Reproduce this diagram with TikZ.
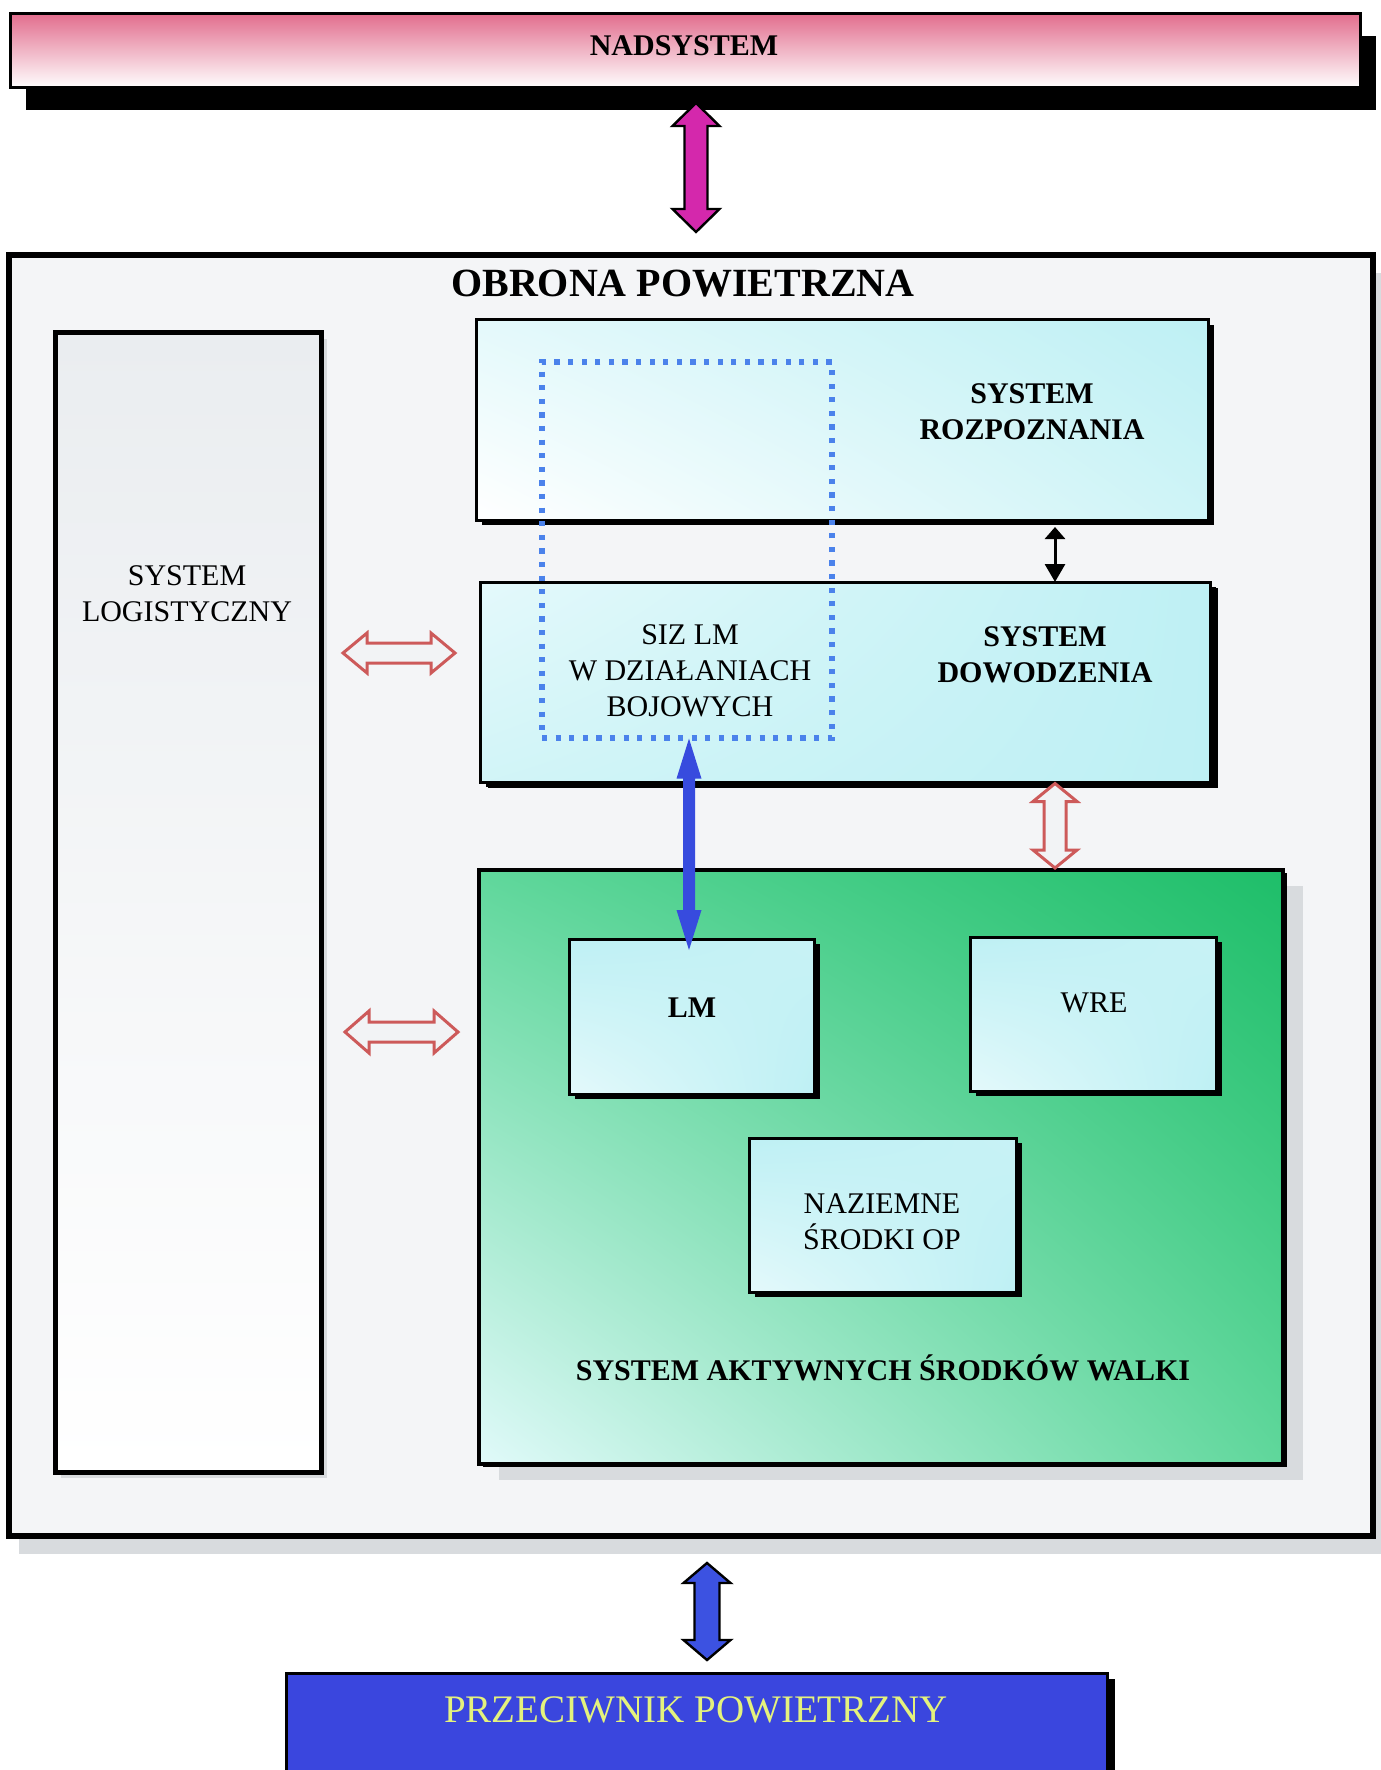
\documentclass[tikz,border=0pt]{standalone}
\usepackage{fontspec}
\setmainfont{Liberation Serif}
\usetikzlibrary{calc,arrows.meta,shadows,shadings}
\definecolor{pinkbar}{RGB}{226,110,142}
\definecolor{bgbox}{RGB}{244,245,247}
\definecolor{halo}{RGB}{216,219,222}
\definecolor{logitop}{RGB}{234,237,240}
\definecolor{cyanbox}{RGB}{190,240,244}
\definecolor{cyanlight}{RGB}{228,249,251}
\definecolor{greendark}{RGB}{30,190,105}
\definecolor{greenmid}{RGB}{95,215,155}
\definecolor{greenlight}{RGB}{225,250,250}
\definecolor{magentaarr}{RGB}{212,40,172}
\definecolor{bluearr}{RGB}{60,82,225}
\definecolor{bluelm}{RGB}{55,75,222}
\definecolor{dotblue}{RGB}{75,130,235}
\definecolor{redarr}{RGB}{205,90,90}
\definecolor{hollow}{RGB}{242,243,245}
\definecolor{enemy}{RGB}{58,70,222}
\definecolor{enemytext}{RGB}{228,242,125}
% vertical double block arrow: style, from (top), to (bottom), half shaft, half head, head length
\newcommand\vblock[6][]{%
  \draw[#1] let \p1=(#2), \p2=(#3) in
    (\x1,\y1) -- (\x1+#5,\y1-#6) -- (\x1+#4,\y1-#6) -- (\x1+#4,\y2+#6) -- (\x1+#5,\y2+#6)
    -- (\x1,\y2) -- (\x1-#5,\y2+#6) -- (\x1-#4,\y2+#6) -- (\x1-#4,\y1-#6) -- (\x1-#5,\y1-#6) -- cycle;}
% horizontal double block arrow: style, from (left), to (right), half shaft, half head, head length
\newcommand\hblock[6][]{%
  \draw[#1] let \p1=(#2), \p2=(#3) in
    (\x1,\y1) -- (\x1+#6,\y1+#5) -- (\x1+#6,\y1+#4) -- (\x2-#6,\y1+#4) -- (\x2-#6,\y1+#5)
    -- (\x2,\y1) -- (\x2-#6,\y1-#5) -- (\x2-#6,\y1-#4) -- (\x1+#6,\y1-#4) -- (\x1+#6,\y1-#5) -- cycle;}
\begin{document}
\begin{tikzpicture}[x=0.5pt,y=-0.5pt,
  lbl/.style={font=\fontsize{15}{18}\selectfont, align=center, inner sep=0pt},
  lblb/.style={lbl, font=\fontsize{15}{18}\selectfont\bfseries},
  cbox/.style={draw, line width=1.5pt, inner sep=0pt,
    drop shadow={shadow xshift=3pt, shadow yshift=-2.5pt, fill=black, opacity=1}},
  cyanfill/.style={upper left=cyanbox, upper right=cyanbox!85, lower left=cyanlight, lower right=cyanbox},
  magarrow/.style={draw=black, line width=1.2pt, fill=magentaarr, line join=miter},
  bluearrow/.style={draw=black, line width=1.2pt, fill=bluearr, line join=miter},
  lmarrow/.style={fill=bluelm, draw=none},
  hollowarrow/.style={draw=redarr, line width=1.5pt, fill=hollow, line join=miter},
]
\useasboundingbox (0,0) rectangle (1380,1770);
\fill[white] (0,0) rectangle (1380,1770);

% NADSYSTEM bar
\node[draw, line width=1.5pt, shade, top color=pinkbar, middle color=pinkbar!45, bottom color=white,
  minimum width=675pt, minimum height=37pt, inner sep=0pt,
  drop shadow={shadow xshift=8pt, shadow yshift=-11pt, fill=black, opacity=1}] (nad) at (685,51) {};

% OBRONA POWIETRZNA frame
\node[draw, line width=3pt, fill=bgbox, minimum width=682pt, minimum height=640.5pt, inner sep=0pt,
  drop shadow={shadow xshift=5pt, shadow yshift=-9pt, fill=halo, opacity=1}] (obrona) at (691,895.5) {};

% SYSTEM LOGISTYCZNY
\node[draw, line width=2.5pt, shade, top color=logitop, bottom color=white,
  minimum width=133pt, minimum height=569.5pt, inner sep=0pt,
  drop shadow={shadow xshift=3pt, shadow yshift=-3pt, fill=halo, opacity=1}] (logi) at (188,902.5) {};

% SYSTEM ROZPOZNANIA
\node[cbox, upper left=cyanlight, upper right=cyanbox, lower left=white, lower right=cyanbox!75,
  minimum width=366pt, minimum height=100pt] (rozp) at (842,420) {};

% SYSTEM DOWODZENIA
\node[cbox, upper left=cyanlight, upper right=cyanbox, lower left=cyanbox!70, lower right=cyanbox,
  minimum width=365pt, minimum height=100pt,
  drop shadow={shadow xshift=4pt, shadow yshift=-3pt, fill=black, opacity=1}] (dow) at (845,682) {};

% SYSTEM AKTYWNYCH SRODKOW WALKI
\node[draw, line width=2pt, inner sep=0pt,
  upper left=greenmid, upper right=greendark, lower left=greenlight, lower right=greenmid,
  minimum width=402pt, minimum height=297pt,
  drop shadow={shadow xshift=10pt, shadow yshift=-8pt, fill=halo, opacity=1},
  drop shadow={shadow xshift=2pt, shadow yshift=-1.5pt, fill=black, opacity=1}] (green) at (881,1167) {};

\node[cbox, cyanfill, minimum width=122.5pt, minimum height=77.5pt] (lm) at (691.5,1016.5) {};
\node[cbox, cyanfill, minimum width=123pt, minimum height=77pt] (wre) at (1093,1014) {};
\node[cbox, cyanfill, minimum width=133.5pt, minimum height=77pt] (naz) at (882.5,1215) {};

% dotted SIZ LM frame
\node[draw=dotblue, line width=2.6pt, dash pattern=on 2.6pt off 4.2pt,
  minimum width=145pt, minimum height=188pt, inner sep=0pt] (siz) at (687,550) {};

% PRZECIWNIK POWIETRZNY
\node[draw, line width=1.5pt, fill=enemy, minimum width=410.5pt, minimum height=58.5pt, inner sep=0pt,
  drop shadow={shadow xshift=4pt, shadow yshift=-3pt, fill=black, opacity=1}] (prz) at (696.5,1731.5) {};

% labels
\node[lblb] (nadL) at (684,46) {NADSYSTEM};
\node[font=\fontsize{20}{24}\selectfont\bfseries, inner sep=0pt] (obrL) at (683,284) {OBRONA POWIETRZNA};
\node[lbl] (logiL) at (187,594) {SYSTEM\\LOGISTYCZNY};
\node[lblb] (rozpL) at (1032,412) {SYSTEM\\ROZPOZNANIA};
\node[lblb] (dowL) at (1045,655) {SYSTEM\\DOWODZENIA};
\node[lbl] (sizL) at (690,671) {SIZ LM\\W DZIAŁANIACH\\BOJOWYCH};
\node[lblb] (lmL) at (692,1008) {LM};
\node[lbl] (wreL) at (1094,1003) {WRE};
\node[lbl] (nazL) at (882,1222) {NAZIEMNE\\ŚRODKI OP};
\node[lblb] (sasL) at (883,1368) {SYSTEM AKTYWNYCH ŚRODKÓW WALKI};
\node[lbl, font=\fontsize{19.5}{23}\selectfont, text=enemytext] (przL) at (696,1710) {PRZECIWNIK POWIETRZNY};

% connectors
\vblock[magarrow]{$(nad.south)+(11,13.5)$}{$(obrona.north)+(5,-20)$}{5.75pt}{11.75pt}{11.5pt}
\draw[line width=1.5pt, {Triangle[width=10pt,length=6pt]}-{Triangle[width=10pt,length=9pt]}]
  ($(rozp.south)+(213,5.5)$) -- ($(dow.north)+(210,1.5)$);
\vblock[hollowarrow]{$(dow.south)+(210,0)$}{$(green.north)+(174,0)$}{5.5pt}{11pt}{9pt}
\hblock[hollowarrow]{$(logi.east)+(19.5,-249.5)$}{$(dow.west)+(-23.5,-29)$}{5pt}{10pt}{12pt}
\hblock[hollowarrow]{$(logi.east)+(21.5,129.5)$}{$(green.west)+(-19,-135)$}{5pt}{10.5pt}{12pt}
\vblock[lmarrow]{$(siz.south)+(2,-2)$}{$(lm.north)+(-2.5,12.5)$}{3pt}{6.25pt}{20pt}
\vblock[bluearrow]{$(obrona.south)+(16,24)$}{$(prz.north)+(10.5,-11.5)$}{6.25pt}{11.75pt}{10pt}
\end{tikzpicture}
\end{document}
